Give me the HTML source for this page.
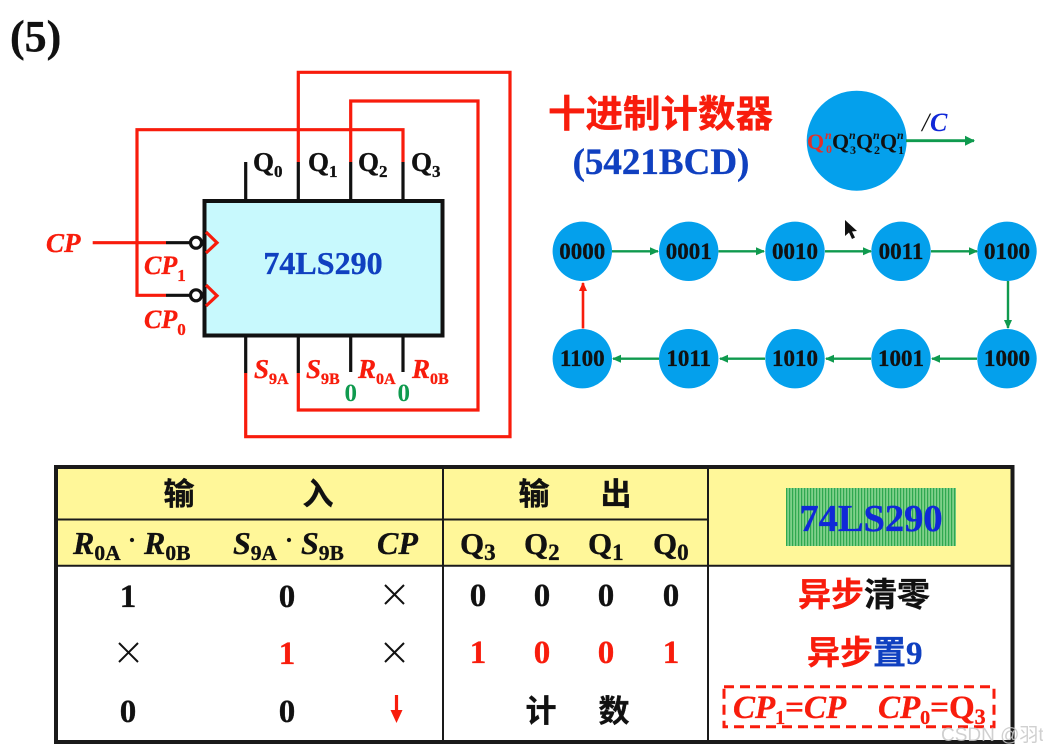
<!DOCTYPE html>
<html><head><meta charset="utf-8"><style>
html,body{margin:0;padding:0;background:#fff;width:1043px;height:752px;overflow:hidden}
svg{display:block}
text{font-family:"Liberation Serif","Noto Serif CJK SC",serif;font-weight:bold}
.cjk{font-family:"Liberation Sans","Noto Sans CJK SC",sans-serif;font-weight:bold}
.i{font-style:italic}
.r{fill:#f81c0c;stroke:#f81c0c;stroke-width:.35}
.k{fill:#111;stroke:#111;stroke-width:.35}
.b{fill:#1040c0;stroke:#1040c0;stroke-width:.35}
.g{fill:#0f9a4e}
.st{font-size:23px;text-anchor:middle;fill:#111;stroke:#111;stroke-width:.3}
.t{font-size:33px;text-anchor:middle}
.q text{font-size:22px;fill:#111}
.q .s{font-size:12px}
.q .n{font-size:12px;font-style:italic}
.q .rd{fill:#e0302a}
</style></head><body>
<svg width="1043" height="752" viewBox="0 0 1043 752" xmlns="http://www.w3.org/2000/svg">
<defs>
<pattern id="hatch" width="3" height="4" patternUnits="userSpaceOnUse"><rect width="3" height="4" fill="#7fd08a"/><rect width="1.2" height="4" fill="#2fa84f"/></pattern>
<marker id="ga" markerWidth="9" markerHeight="9" refX="8" refY="4.5" orient="auto" markerUnits="userSpaceOnUse"><path d="M0 .5L9 4.5L0 8.5z" fill="#0f9a4e"/></marker>
<marker id="gb" markerWidth="10" markerHeight="11" refX="9" refY="5.5" orient="auto" markerUnits="userSpaceOnUse"><path d="M0 .5L10 5.5L0 10.5z" fill="#0f9a4e"/></marker>
<marker id="ra" markerWidth="9" markerHeight="9" refX="8" refY="4.5" orient="auto" markerUnits="userSpaceOnUse"><path d="M0 .5L9 4.5L0 8.5z" fill="#f81c0c"/></marker>
</defs>
<text x="10" y="51" font-size="44" class="k">(5)</text>

<!-- chip -->
<rect x="204.5" y="201" width="238" height="134.5" fill="#c8f9fd" stroke="#111" stroke-width="4"/>
<g stroke="#111" stroke-width="3.2" fill="none">
<path d="M245.7 162V201M298.3 162V201M350.7 162V201M403 162V201"/>
<path d="M245.7 336V373M298.3 336V373M350.7 336V372M403 336V372"/>
<path d="M166 242.7H191M166 295.3H191"/>
<circle cx="196" cy="242.7" r="5.5" fill="#fff"/>
<circle cx="196" cy="295.3" r="5.5" fill="#fff"/>
</g>
<g stroke="#f81c0c" stroke-width="3.2" fill="none">
<path d="M298.3 162V72.3H510V436.7H245.7V373"/>
<path d="M350.7 162V101H478V410H298.3V373"/>
<path d="M403 162V129.7H137V295.3H166"/>
<path d="M92.7 242.7H166"/>
<path d="M206 232L217 242.7L206 253"/>
<path d="M206 285L217 295.7L206 306"/>
</g>
<g font-size="27" class="k">
<text x="253" y="171">Q<tspan font-size="17" dy="6">0</tspan></text>
<text x="308" y="171">Q<tspan font-size="17" dy="6">1</tspan></text>
<text x="358" y="171">Q<tspan font-size="17" dy="6">2</tspan></text>
<text x="411" y="171">Q<tspan font-size="17" dy="6">3</tspan></text>
</g>
<text x="46" y="252" font-size="27" class="r i">CP</text>
<text x="144" y="274" font-size="26" class="r i">CP<tspan font-size="17" dy="7" font-style="normal">1</tspan></text>
<text x="144" y="328" font-size="26" class="r i">CP<tspan font-size="17" dy="7" font-style="normal">0</tspan></text>
<text x="323" y="274" font-size="32" class="b" text-anchor="middle">74LS290</text>
<g font-size="27" class="r i">
<text x="254" y="378">S<tspan font-size="16" dy="6" font-style="normal">9A</tspan></text>
<text x="306" y="378">S<tspan font-size="16" dy="6" font-style="normal">9B</tspan></text>
<text x="358" y="378">R<tspan font-size="16" dy="6" font-style="normal">0A</tspan></text>
<text x="412" y="378">R<tspan font-size="16" dy="6" font-style="normal">0B</tspan></text>
</g>
<text x="350.7" y="401" font-size="25" class="g" text-anchor="middle">0</text>
<text x="403.7" y="401" font-size="25" class="g" text-anchor="middle">0</text>

<!-- title -->
<text x="660.5" y="127" font-size="37.5" class="cjk r" text-anchor="middle">十进制计数器</text>
<text x="661" y="174" font-size="37" class="b" text-anchor="middle">(5421BCD)</text>
<circle cx="856.7" cy="140.7" r="50" fill="#04a0ec"/>
<g class="q">
<text x="807" y="149" class="rd">Q</text><text x="825" y="139" class="n rd">n</text><text x="826" y="153" class="s rd">0</text>
<text x="832" y="149">Q</text><text x="849" y="139" class="n">n</text><text x="850" y="154" class="s">3</text>
<text x="856" y="149">Q</text><text x="873" y="139" class="n">n</text><text x="874" y="154" class="s">2</text>
<text x="880" y="149">Q</text><text x="897" y="139" class="n">n</text><text x="898" y="154" class="s">1</text>
</g>
<path d="M906 140.7H974" stroke="#0f9a4e" stroke-width="2.8" fill="none" marker-end="url(#gb)"/>
<text x="922" y="131" font-size="26" class="i" fill="#111" style="font-weight:normal">/</text>
<text x="930" y="131" font-size="26" class="i" fill="#1028d8">C</text>

<!-- state row -->
<g fill="#04a0ec">
<circle cx="582.3" cy="251.3" r="29.7"/><circle cx="688.7" cy="251.3" r="29.7"/><circle cx="795" cy="251.3" r="29.7"/><circle cx="901" cy="251.3" r="29.7"/><circle cx="1007" cy="251.3" r="29.7"/>
<circle cx="582.3" cy="358.7" r="29.7"/><circle cx="688.7" cy="358.7" r="29.7"/><circle cx="795" cy="358.7" r="29.7"/><circle cx="901" cy="358.7" r="29.7"/><circle cx="1007" cy="358.7" r="29.7"/>
</g>
<text class="st" x="582.3" y="259">0000</text><text class="st" x="688.7" y="259">0001</text><text class="st" x="795" y="259">0010</text><text class="st" x="901" y="259">0011</text><text class="st" x="1007" y="259">0100</text>
<text class="st" x="582.3" y="366">1100</text><text class="st" x="688.7" y="366">1011</text><text class="st" x="795" y="366">1010</text><text class="st" x="901" y="366">1001</text><text class="st" x="1007" y="366">1000</text>
<g stroke="#0f9a4e" stroke-width="2.4" fill="none">
<path d="M612 251.3H658" marker-end="url(#ga)"/><path d="M718.5 251.3H764" marker-end="url(#ga)"/><path d="M825 251.3H871" marker-end="url(#ga)"/><path d="M931 251.3H977" marker-end="url(#ga)"/>
<path d="M1008 281V328" marker-end="url(#ga)"/>
<path d="M977 358.7H932" marker-end="url(#ga)"/><path d="M871 358.7H826" marker-end="url(#ga)"/><path d="M765 358.7H720" marker-end="url(#ga)"/><path d="M659 358.7H613" marker-end="url(#ga)"/>
</g>
<path d="M583 328.5V283" stroke="#f81c0c" stroke-width="2.6" fill="none" marker-end="url(#ra)"/>
<path d="M845 220V236L849 232.5L852 239L855 237.5L852 231.5L857 231z" fill="#111"/>

<!-- table -->
<rect x="56" y="467" width="956.5" height="99" fill="#fff799"/>
<rect x="56" y="467" width="956.5" height="275" fill="none" stroke="#1a1a1a" stroke-width="4"/>
<g stroke="#1a1a1a" stroke-width="2" fill="none">
<path d="M443 467V741M708 467V741M56 519.5H708M56 565.7H1012"/>
</g>
<text x="179" y="505" font-size="31" class="cjk k" text-anchor="middle">输</text>
<text x="318" y="505" font-size="31" class="cjk k" text-anchor="middle">入</text>
<text x="534" y="505" font-size="31" class="cjk k" text-anchor="middle">输</text>
<text x="616" y="505" font-size="31" class="cjk k" text-anchor="middle">出</text>

<g font-size="33" class="k">
<text x="73" y="554" font-size="32" class="i">R<tspan font-size="21.5" dy="6" font-style="normal">0A</tspan></text>
<text x="128" y="548" font-size="24">·</text>
<text x="144" y="554" font-size="32" class="i">R<tspan font-size="21.5" dy="6" font-style="normal">0B</tspan></text>
<text x="233" y="554" font-size="32" class="i">S<tspan font-size="21.5" dy="6" font-style="normal">9A</tspan></text>
<text x="285" y="548" font-size="24">·</text>
<text x="301" y="554" font-size="32" class="i">S<tspan font-size="21.5" dy="6" font-style="normal">9B</tspan></text>
<text x="377" y="554" font-size="32" class="i">CP</text>
<text x="460" y="554" font-size="31">Q<tspan font-size="23" dy="6">3</tspan></text>
<text x="524" y="554" font-size="31">Q<tspan font-size="23" dy="6">2</tspan></text>
<text x="588" y="554" font-size="31">Q<tspan font-size="23" dy="6">1</tspan></text>
<text x="653" y="554" font-size="31">Q<tspan font-size="23" dy="6">0</tspan></text>
</g>
<rect x="786" y="488" width="170" height="58" fill="url(#hatch)"/>
<text x="871" y="531" font-size="38.5" fill="#1028d8" stroke="#1028d8" stroke-width=".35" text-anchor="middle">74LS290</text>

<g class="k">
<text class="t" x="128" y="607">1</text><text class="t" x="287" y="607">0</text>
<text class="t" x="128" y="722">0</text><text class="t" x="287" y="722">0</text>
<text class="t" x="478" y="606">0</text><text class="t" x="542" y="606">0</text><text class="t" x="606" y="606">0</text><text class="t" x="671" y="606">0</text>
</g>
<g class="r">
<text class="t" x="287" y="664">1</text>
<text class="t" x="478" y="663">1</text><text class="t" x="542" y="663">0</text><text class="t" x="606" y="663">0</text><text class="t" x="671" y="663">1</text>
</g>
<g stroke="#111" stroke-width="2" fill="none">
<path d="M385 585L404 604M404 585L385 604"/>
<path d="M119 643L138 662M138 643L119 662"/>
<path d="M385 643L404 662M404 643L385 662"/>
</g>
<path d="M396.5 695V712" stroke="#f81c0c" stroke-width="3.2"/><path d="M390.5 710H402.5L396.5 723z" fill="#f81c0c"/>
<text x="541" y="722" font-size="31" class="cjk k" text-anchor="middle">计</text>
<text x="614" y="722" font-size="31" class="cjk k" text-anchor="middle">数</text>

<text x="798" y="606" font-size="33" class="cjk"><tspan class="r">异步</tspan><tspan class="k">清零</tspan></text>
<text x="807" y="664" font-size="33" class="cjk"><tspan class="r">异步</tspan><tspan class="b">置</tspan><tspan class="b" style="font-family:'Liberation Serif'">9</tspan></text>
<rect x="724" y="686.7" width="270" height="40" fill="none" stroke="#f81c0c" stroke-width="3" stroke-dasharray="10 6"/>
<text x="733" y="718" font-size="33" class="r i">CP<tspan font-size="20" dy="6" font-style="normal">1</tspan><tspan dy="-6" font-style="normal">=</tspan>CP</text>
<text x="878" y="718" font-size="33" class="r i">CP<tspan font-size="20" dy="6" font-style="normal">0</tspan><tspan dy="-6" font-style="normal">=Q</tspan><tspan font-size="22" dy="6" font-style="normal">3</tspan></text>
<text x="941" y="741" font-size="19" fill="#c8c8c8" style="font-family:'Liberation Sans','Noto Sans CJK SC',sans-serif;font-weight:normal;opacity:.85">CSDN @羽t</text>
</svg>
</body></html>
